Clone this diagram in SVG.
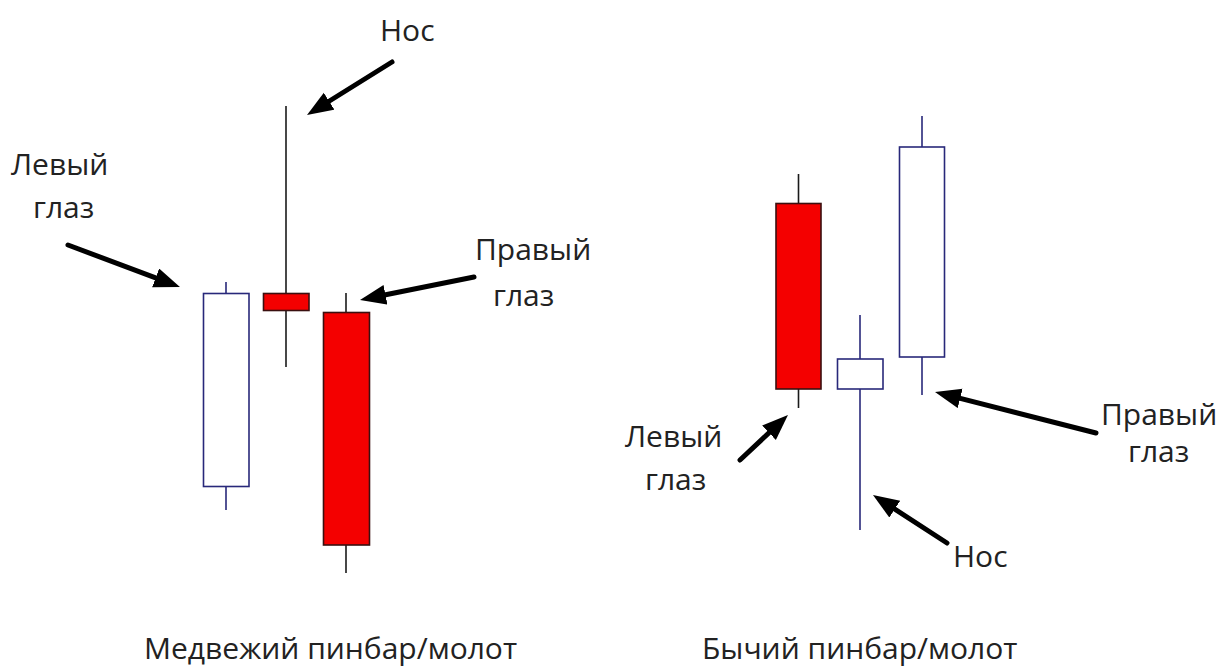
<svg xmlns="http://www.w3.org/2000/svg" width="1224" height="666" viewBox="0 0 1224 666">
<style>
.bg{fill:#ffffff}
.wick-b{stroke:#1a1a1a;stroke-width:1.6;fill:none}
.wick-n{stroke:#28287a;stroke-width:1.6;fill:none}
.red{fill:#f40000;stroke:#3a1010;stroke-width:1.6}
.white{fill:#ffffff;stroke:#28287a;stroke-width:1.6}
.lbl{font-family:"Open Sans","Noto Sans","DejaVu Sans",sans-serif;font-size:30px;fill:#222222}
.title{font-family:"Open Sans","Noto Sans","DejaVu Sans",sans-serif;font-size:30px;fill:#222222}
.arr{stroke:#000000;stroke-width:5;fill:none;stroke-linecap:round;marker-end:url(#ah)}
</style>
<defs>
<marker id="ah" markerUnits="userSpaceOnUse" markerWidth="28" markerHeight="22" refX="10" refY="10" orient="auto">
<path d="M0,0 L26,10 L0,20 Z" fill="#000000"/>
</marker>
</defs>
<rect class="bg" x="0" y="0" width="1224" height="666"/>

<g id="bear-left-candle">
<line class="wick-n" x1="226" y1="282" x2="226" y2="510"/>
<rect class="white" x="203.5" y="293.5" width="45.5" height="193"/>
</g>
<g id="bear-nose-candle">
<line class="wick-b" x1="286" y1="106" x2="286" y2="367"/>
<rect class="red" x="263.5" y="293.5" width="45.5" height="17"/>
</g>
<g id="bear-right-candle">
<line class="wick-b" x1="346" y1="293" x2="346" y2="573"/>
<rect class="red" x="323.5" y="312.5" width="46" height="232.5"/>
</g>

<g id="bull-left-candle">
<line class="wick-b" x1="798.5" y1="174" x2="798.5" y2="408"/>
<rect class="red" x="776" y="203.5" width="45" height="185.5"/>
</g>
<g id="bull-nose-candle">
<line class="wick-n" x1="860" y1="315" x2="860" y2="530"/>
<rect class="white" x="837.5" y="359" width="45.5" height="30"/>
</g>
<g id="bull-right-candle">
<line class="wick-n" x1="922" y1="116" x2="922" y2="395"/>
<rect class="white" x="899.5" y="147" width="45" height="210"/>
</g>

<g id="connectors">
<line class="arr" x1="392" y1="62" x2="320.6" y2="106.5"/>
<line class="arr" x1="68" y1="245" x2="165" y2="281.4"/>
<line class="arr" x1="474" y1="277" x2="375.7" y2="296.8"/>
<line class="arr" x1="740" y1="460" x2="776.3" y2="425.9"/>
<line class="arr" x1="1096" y1="433" x2="950.5" y2="395.9"/>
<line class="arr" x1="947" y1="543" x2="886.4" y2="503.7"/>
</g>

<g id="label-bear-nose"><text class="lbl" x="380" y="41">Нос</text></g>
<g id="label-bear-left-eye">
<text class="lbl" x="11" y="175">Левый</text>
<text class="lbl" x="33" y="218">глаз</text>
</g>
<g id="label-bear-right-eye">
<text class="lbl" x="475" y="260">Правый</text>
<text class="lbl" x="493" y="306">глаз</text>
</g>
<g id="label-bull-left-eye">
<text class="lbl" x="625" y="447">Левый</text>
<text class="lbl" x="645" y="490">глаз</text>
</g>
<g id="label-bull-right-eye">
<text class="lbl" x="1101" y="425">Правый</text>
<text class="lbl" x="1128" y="462">глаз</text>
</g>
<g id="label-bull-nose"><text class="lbl" x="953" y="567">Нос</text></g>

<g id="title-bear"><text class="title" x="144" y="659">Медвежий пинбар/молот</text></g>
<g id="title-bull"><text class="title" x="702" y="659">Бычий пинбар/молот</text></g>
</svg>
